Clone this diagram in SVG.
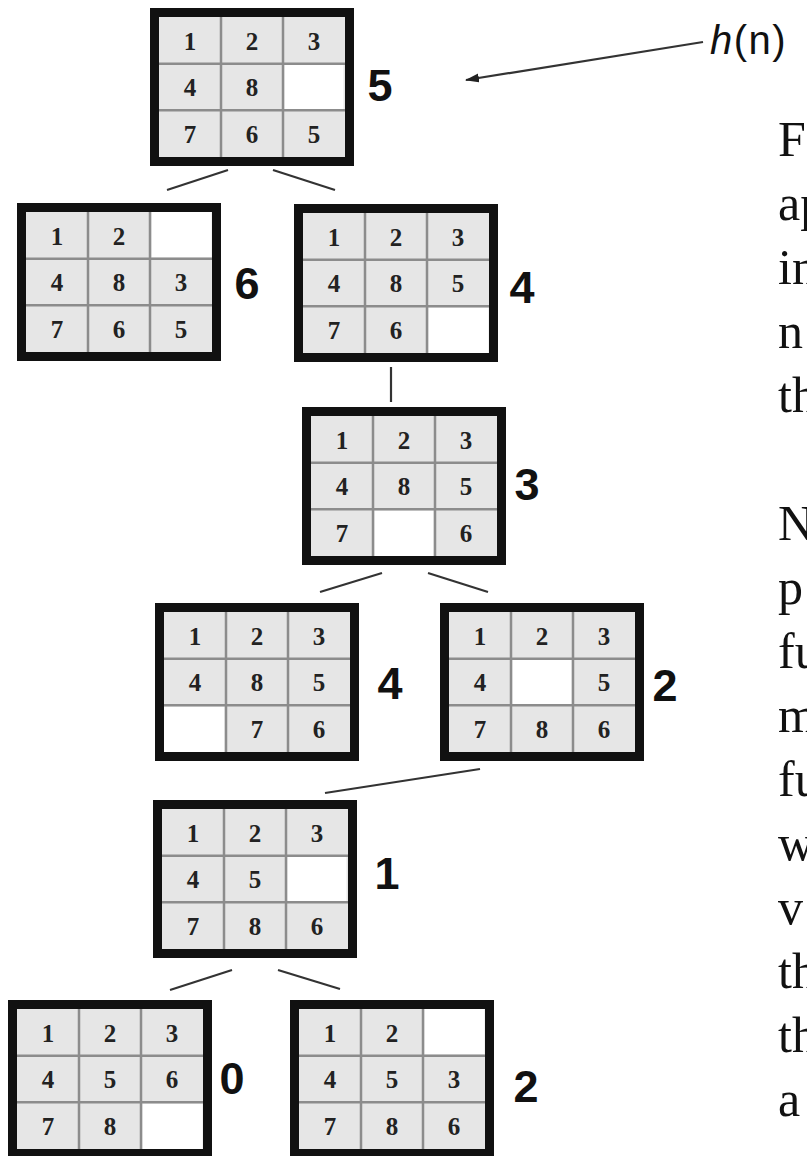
<svg xmlns="http://www.w3.org/2000/svg" xmlns:xlink="http://www.w3.org/1999/xlink" width="807" height="1156" viewBox="0 0 807 1156">
<style>
.bg{fill:#fff}
.cellfill{fill:#e6e6e6}
.blank{fill:#fff}
.grid{stroke:#8c8c8c;stroke-width:2.5;fill:none}
.frame{fill:none;stroke:#111;stroke-width:9}
.d{font-family:"Liberation Serif","Times New Roman",serif;font-weight:bold;font-size:25px;text-anchor:middle;fill:#222}
.lbl{font-family:"Liberation Sans",Arial,sans-serif;font-weight:bold;font-size:45px;text-anchor:middle;fill:#111}
.edge{stroke:#333;stroke-width:2.2;fill:none}
.t{font-family:"Liberation Serif","Times New Roman",serif;font-size:50px;fill:#111}
.hn{font-family:"Liberation Sans",Arial,sans-serif;font-size:40px;letter-spacing:1.5px;fill:#111}
</style>
<defs>
<g id="board">
<rect class="cellfill" x="9" y="9" width="186" height="140"/>
</g>
<g id="boardlines">
<path class="grid" d="M71,9V149M133,9V149M9,55.67H195M9,102.33H195"/>
<rect class="frame" x="4.5" y="4.5" width="195" height="149"/>
</g>
<marker id="arr" markerUnits="userSpaceOnUse" markerWidth="14" markerHeight="10" refX="13" refY="4.5" orient="auto">
<path d="M0,0 L14,4.5 L0,9 z" fill="#222"/>
</marker>
</defs>
<rect class="bg" x="0" y="0" width="807" height="1156"/>

<g id="connectors">
<line class="edge" x1="167" y1="190" x2="228" y2="170"/>
<line class="edge" x1="273" y1="170" x2="335" y2="190"/>
<line class="edge" x1="391" y1="367" x2="391" y2="402"/>
<line class="edge" x1="320" y1="592" x2="382" y2="573"/>
<line class="edge" x1="428" y1="573" x2="488" y2="592"/>
<line class="edge" x1="325" y1="793" x2="480" y2="769"/>
<line class="edge" x1="170" y1="990" x2="232" y2="970"/>
<line class="edge" x1="278" y1="970" x2="340" y2="989"/>
<line class="edge" x1="703" y1="42" x2="466" y2="80" marker-end="url(#arr)"/>
</g>

<g id="n1" transform="translate(150,8)">
<use href="#board"/>
<rect class="blank" x="134.5" y="57" width="59" height="44"/>
<use href="#boardlines"/>
<text class="d" x="40" y="41.5">1</text><text class="d" x="102" y="41.5">2</text><text class="d" x="164" y="41.5">3</text>
<text class="d" x="40" y="88">4</text><text class="d" x="102" y="88">8</text>
<text class="d" x="40" y="134.7">7</text><text class="d" x="102" y="134.7">6</text><text class="d" x="164" y="134.7">5</text>
<text class="lbl" x="230" y="93">5</text>
</g>

<g id="n2" transform="translate(17,203)">
<use href="#board"/>
<rect class="blank" x="134.5" y="9" width="60" height="45.5"/>
<use href="#boardlines"/>
<text class="d" x="40" y="41.5">1</text><text class="d" x="102" y="41.5">2</text>
<text class="d" x="40" y="88">4</text><text class="d" x="102" y="88">8</text><text class="d" x="164" y="88">3</text>
<text class="d" x="40" y="134.7">7</text><text class="d" x="102" y="134.7">6</text><text class="d" x="164" y="134.7">5</text>
<text class="lbl" x="230" y="96">6</text>
</g>

<g id="n3" transform="translate(294,204)">
<use href="#board"/>
<rect class="blank" x="134.5" y="103.5" width="60" height="45.5"/>
<use href="#boardlines"/>
<text class="d" x="40" y="41.5">1</text><text class="d" x="102" y="41.5">2</text><text class="d" x="164" y="41.5">3</text>
<text class="d" x="40" y="88">4</text><text class="d" x="102" y="88">8</text><text class="d" x="164" y="88">5</text>
<text class="d" x="40" y="134.7">7</text><text class="d" x="102" y="134.7">6</text>
<text class="lbl" x="228" y="99">4</text>
</g>

<g id="n4" transform="translate(302,407)">
<use href="#board"/>
<rect class="blank" x="72.5" y="103.5" width="59" height="45.5"/>
<use href="#boardlines"/>
<text class="d" x="40" y="41.5">1</text><text class="d" x="102" y="41.5">2</text><text class="d" x="164" y="41.5">3</text>
<text class="d" x="40" y="88">4</text><text class="d" x="102" y="88">8</text><text class="d" x="164" y="88">5</text>
<text class="d" x="40" y="134.7">7</text><text class="d" x="164" y="134.7">6</text>
<text class="lbl" x="225" y="93">3</text>
</g>

<g id="n5" transform="translate(155,603)">
<use href="#board"/>
<rect class="blank" x="9" y="103.5" width="60.5" height="45.5"/>
<use href="#boardlines"/>
<text class="d" x="40" y="41.5">1</text><text class="d" x="102" y="41.5">2</text><text class="d" x="164" y="41.5">3</text>
<text class="d" x="40" y="88">4</text><text class="d" x="102" y="88">8</text><text class="d" x="164" y="88">5</text>
<text class="d" x="102" y="134.7">7</text><text class="d" x="164" y="134.7">6</text>
<text class="lbl" x="235" y="96">4</text>
</g>

<g id="n6" transform="translate(440,603)">
<use href="#board"/>
<rect class="blank" x="72.5" y="57" width="59" height="44"/>
<use href="#boardlines"/>
<text class="d" x="40" y="41.5">1</text><text class="d" x="102" y="41.5">2</text><text class="d" x="164" y="41.5">3</text>
<text class="d" x="40" y="88">4</text><text class="d" x="164" y="88">5</text>
<text class="d" x="40" y="134.7">7</text><text class="d" x="102" y="134.7">8</text><text class="d" x="164" y="134.7">6</text>
<text class="lbl" x="225" y="98">2</text>
</g>

<g id="n7" transform="translate(153,800)">
<use href="#board"/>
<rect class="blank" x="134.5" y="57" width="59" height="44"/>
<use href="#boardlines"/>
<text class="d" x="40" y="41.5">1</text><text class="d" x="102" y="41.5">2</text><text class="d" x="164" y="41.5">3</text>
<text class="d" x="40" y="88">4</text><text class="d" x="102" y="88">5</text>
<text class="d" x="40" y="134.7">7</text><text class="d" x="102" y="134.7">8</text><text class="d" x="164" y="134.7">6</text>
<text class="lbl" x="234" y="89">1</text>
</g>

<g id="n8" transform="translate(8,1000)">
<use href="#board"/>
<rect class="blank" x="134.5" y="103.5" width="60" height="45.5"/>
<use href="#boardlines"/>
<text class="d" x="40" y="41.5">1</text><text class="d" x="102" y="41.5">2</text><text class="d" x="164" y="41.5">3</text>
<text class="d" x="40" y="88">4</text><text class="d" x="102" y="88">5</text><text class="d" x="164" y="88">6</text>
<text class="d" x="40" y="134.7">7</text><text class="d" x="102" y="134.7">8</text>
<text class="lbl" x="224" y="94">0</text>
</g>

<g id="n9" transform="translate(290,1000)">
<use href="#board"/>
<rect class="blank" x="134.5" y="9" width="60" height="45.5"/>
<use href="#boardlines"/>
<text class="d" x="40" y="41.5">1</text><text class="d" x="102" y="41.5">2</text>
<text class="d" x="40" y="88">4</text><text class="d" x="102" y="88">5</text><text class="d" x="164" y="88">3</text>
<text class="d" x="40" y="134.7">7</text><text class="d" x="102" y="134.7">8</text><text class="d" x="164" y="134.7">6</text>
<text class="lbl" x="236" y="102">2</text>
</g>

<g id="hn-label">
<text class="hn" x="710" y="54"><tspan font-style="italic">h</tspan>(n)</text>
</g>

<g id="sidetext">
<text class="t" x="778" y="156">F</text>
<text class="t" x="778" y="220">ap</text>
<text class="t" x="778" y="284">in</text>
<text class="t" x="778" y="348">n</text>
<text class="t" x="778" y="412">th</text>
<text class="t" x="778" y="540">N</text>
<text class="t" x="778" y="604">p</text>
<text class="t" x="778" y="668">fu</text>
<text class="t" x="778" y="732">m</text>
<text class="t" x="778" y="796">fu</text>
<text class="t" x="778" y="860">w</text>
<text class="t" x="778" y="924">v</text>
<text class="t" x="778" y="988">th</text>
<text class="t" x="778" y="1052">th</text>
<text class="t" x="778" y="1116">a</text>
</g>
</svg>
